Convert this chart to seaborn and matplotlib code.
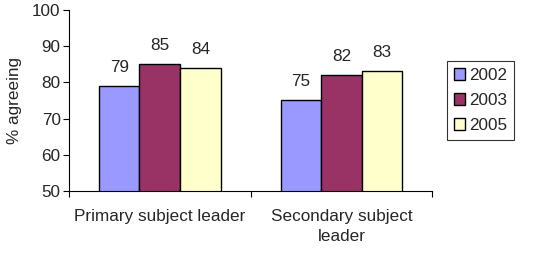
import matplotlib
matplotlib.use("Agg")
import matplotlib.pyplot as plt
import pandas as pd
import seaborn as sns

categories = ["Primary subject leader", "Secondary subject\nleader"]
years = ["2002", "2003", "2005"]
values_2002 = [79, 75]
values_2003 = [85, 82]
values_2005 = [84, 83]
colors = ["#9999FF", "#993366", "#FFFFCC"]

rows = []
for year, vals in zip(years, [values_2002, values_2003, values_2005]):
    for cat, v in zip(categories, vals):
        rows.append({"category": cat, "year": year, "value": v})
df = pd.DataFrame(rows)

sns.set_theme(style="white")
plt.rcParams["font.family"] = ["Liberation Sans", "DejaVu Sans"]
FS = 12.3

fig = plt.figure(figsize=(5.43, 2.54), dpi=100)
ax = fig.add_axes([0.127, 0.248, 0.669, 0.713])

sns.barplot(data=df, x="category", y="value", hue="year", order=categories,
            hue_order=years, palette=colors, saturation=1, width=0.67,
            edgecolor="black", linewidth=1.0, ax=ax, errorbar=None)

for container in ax.containers:
    ax.bar_label(container, fmt="%d", padding=8, fontsize=FS)

ax.set_ylim(50, 100)
ax.set_yticks(range(50, 101, 10))
ax.set_xlim(-0.5, 1.5)
ax.set_xlabel("")
ax.set_ylabel("% agreeing", fontsize=FS, labelpad=7)
ax.tick_params(axis="y", labelsize=FS, length=4, width=0.8, direction="out",
               left=True, color="black", pad=2)
ax.tick_params(axis="x", labelsize=FS, length=0, pad=13)
ax.set_xticks([-0.5, 0.5, 1.5], minor=True)
ax.tick_params(axis="x", which="minor", length=4, width=0.8, bottom=True,
               direction="out", color="black")
for lab in ax.get_xticklabels():
    lab.set_linespacing(1.45)

sns.despine(ax=ax, top=True, right=True)
for side in ["left", "bottom"]:
    ax.spines[side].set_color("black")
    ax.spines[side].set_linewidth(0.8)

leg = ax.legend(title=None, loc="center left", bbox_to_anchor=(1.04, 0.5),
                fontsize=FS, frameon=True, fancybox=False, handlelength=0.65,
                handleheight=0.65, handletextpad=0.25, borderpad=0.4,
                labelspacing=0.58, borderaxespad=0)
leg.get_frame().set_edgecolor("black")
leg.get_frame().set_linewidth(0.8)

fig.savefig("out.png", dpi=100)
